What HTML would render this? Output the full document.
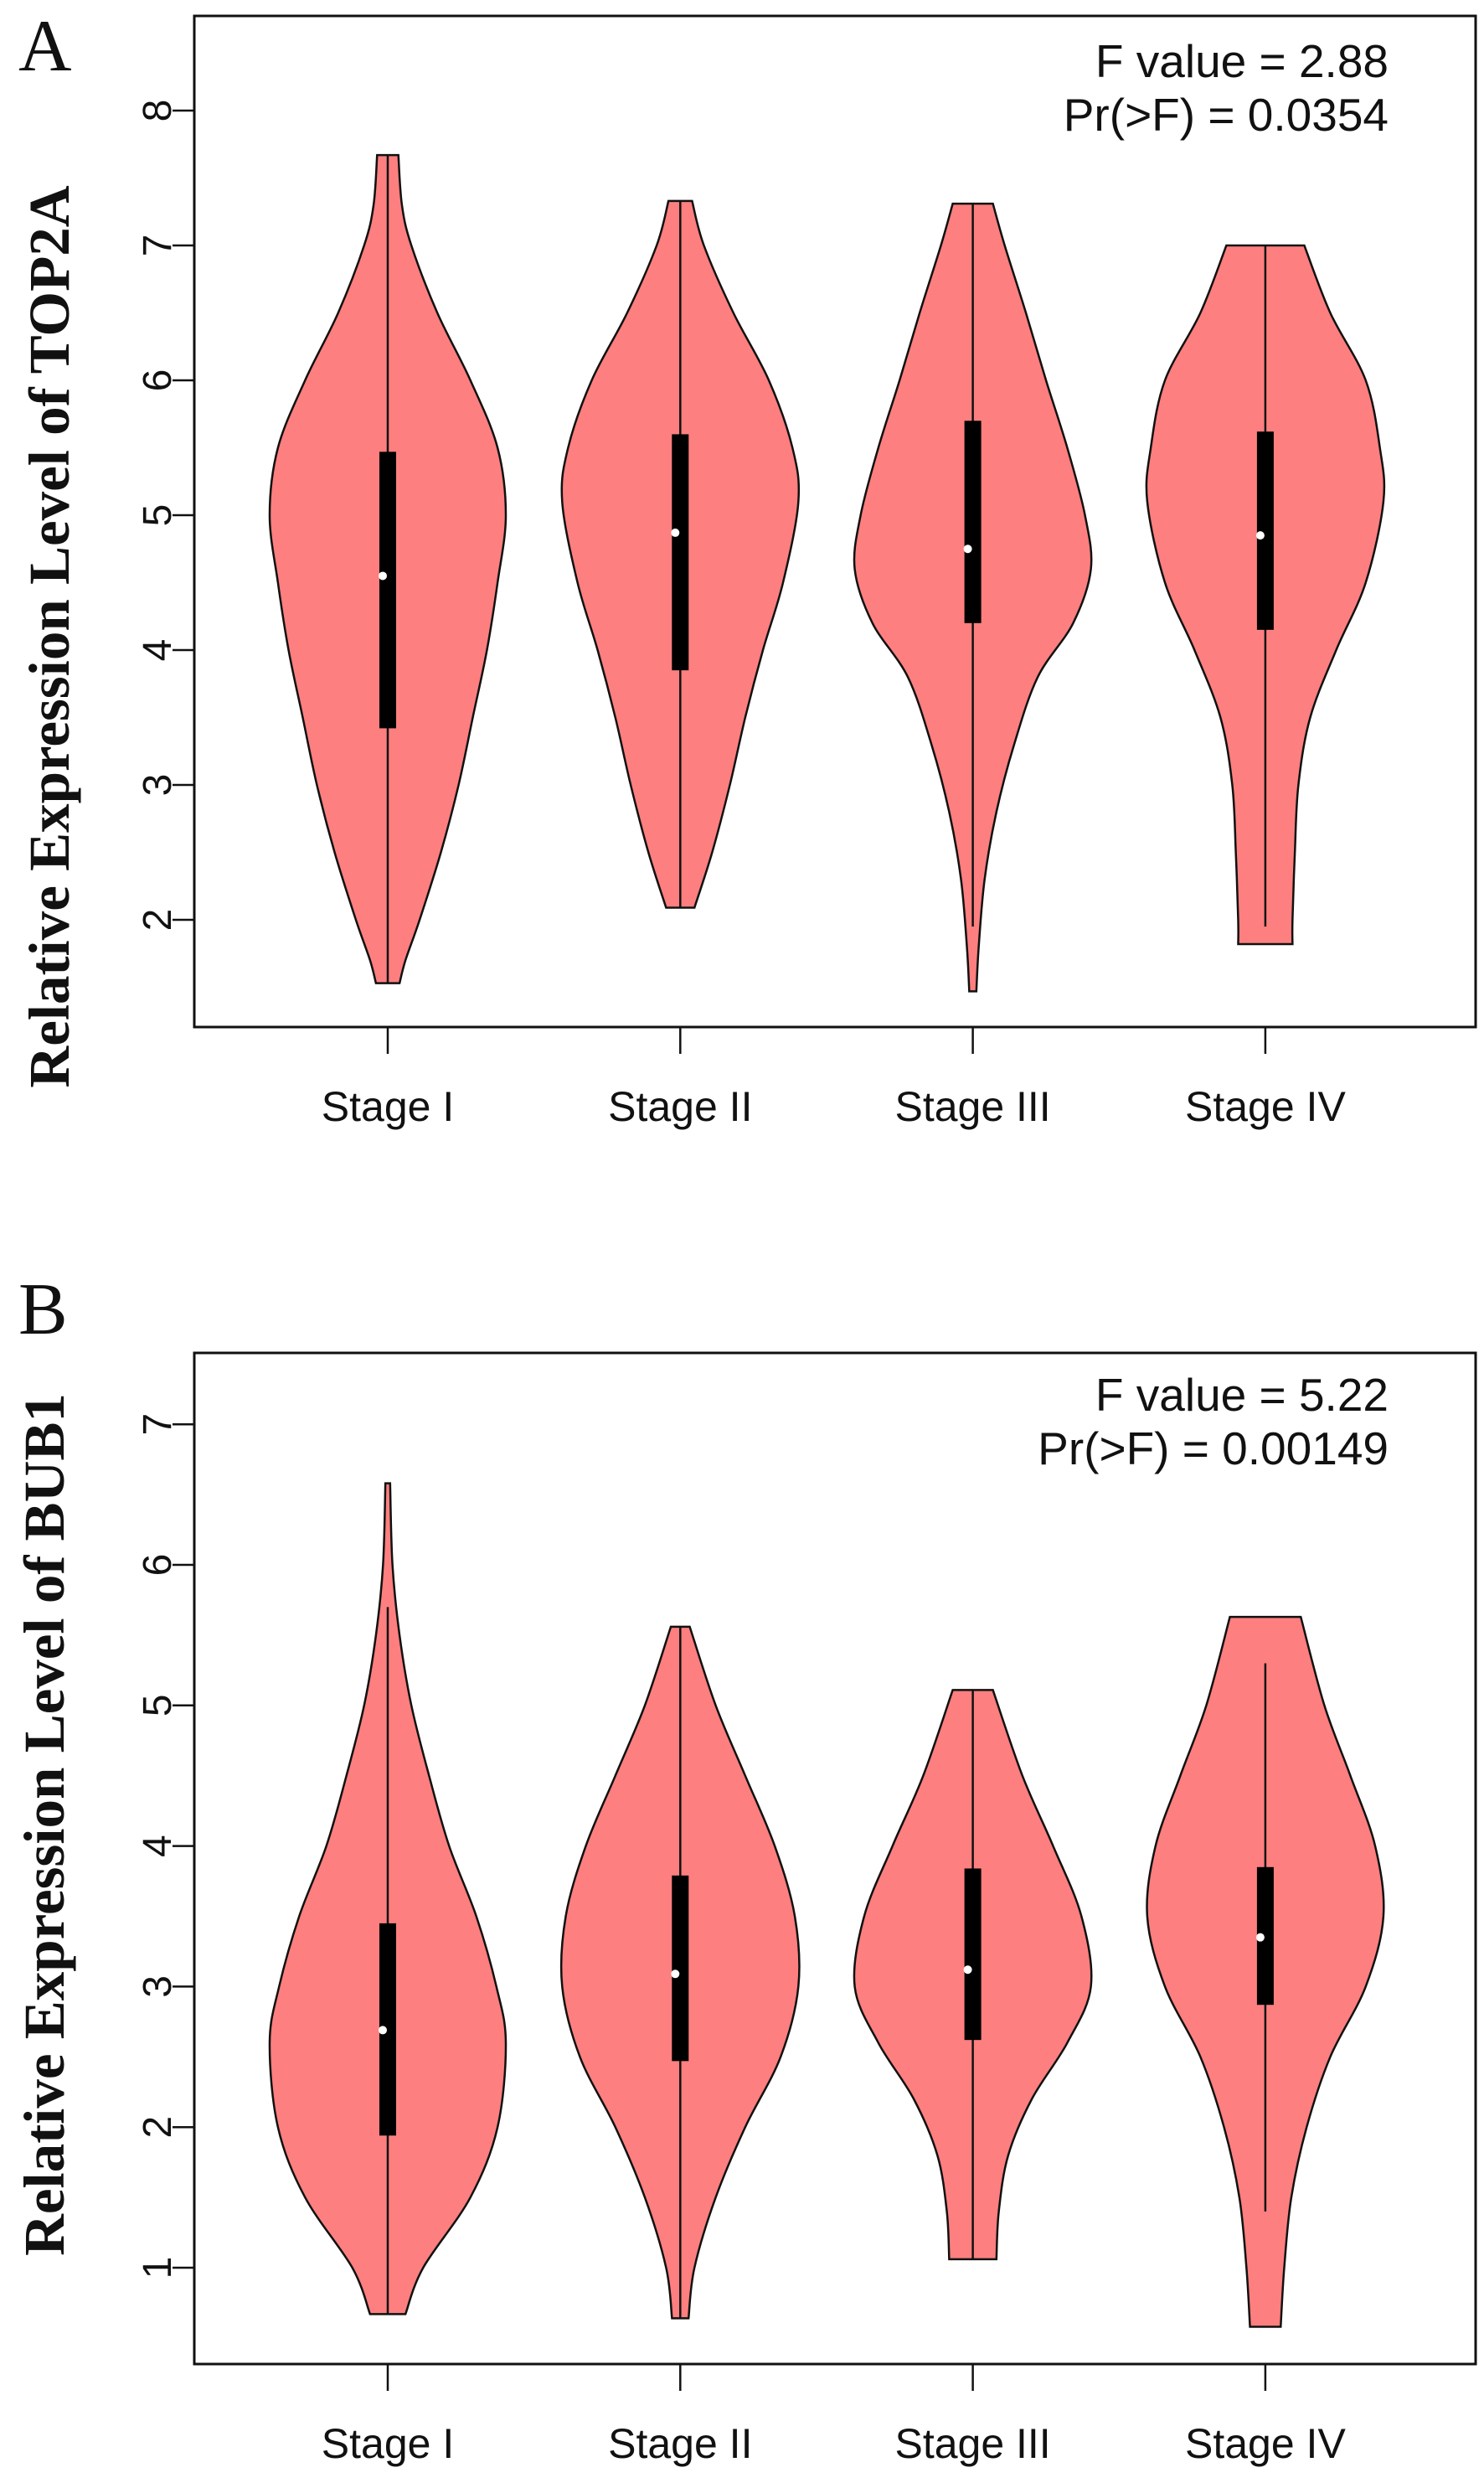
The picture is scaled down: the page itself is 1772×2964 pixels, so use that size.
<!DOCTYPE html>
<html><head><meta charset="utf-8"><style>
html,body{margin:0;padding:0;background:#fff;}
svg{display:block;}
</style></head><body>
<svg id="chart" width="1772" height="2964" viewBox="0 0 1772 2964" xmlns="http://www.w3.org/2000/svg"></svg>
<script>
// ---- data ----
const categories = ["Stage I","Stage II","Stage III","Stage IV"];
const ticksA = [2,3,4,5,6,7,8];
const ticksB = [1,2,3,4,5,6,7];
// violin profiles: [value, relative half-width]
const profA1 = [[7.67,0.09],[7.3,0.12],[7.0,0.2],[6.5,0.42],[6.0,0.7],[5.5,0.93],[5.0,1.0],[4.5,0.93],[4.0,0.84],[3.5,0.72],[3.0,0.6],[2.5,0.45],[2.0,0.27],[1.7,0.15],[1.53,0.1]];
const profA2 = [[7.33,0.1],[7.0,0.2],[6.5,0.45],[6.0,0.75],[5.5,0.95],[5.1,1.0],[4.5,0.87],[4.0,0.7],[3.5,0.55],[3.0,0.42],[2.5,0.27],[2.09,0.12]];
const profA3 = [[7.31,0.17],[7.0,0.27],[6.5,0.45],[6.0,0.62],[5.5,0.8],[5.0,0.95],[4.6,1.0],[4.2,0.85],[3.8,0.55],[3.3,0.35],[2.8,0.2],[2.3,0.1],[1.8,0.05],[1.47,0.03]];
const profA4 = [[7.0,0.33],[6.5,0.55],[6.0,0.85],[5.5,0.97],[5.1,1.0],[4.5,0.85],[4.0,0.6],[3.5,0.38],[3.0,0.28],[2.5,0.25],[2.0,0.23],[1.82,0.23]];
const profB1 = [[6.58,0.02],[6.0,0.04],[5.5,0.1],[5.0,0.2],[4.5,0.35],[4.0,0.52],[3.5,0.75],[3.0,0.92],[2.6,1.0],[2.0,0.93],[1.5,0.7],[1.0,0.3],[0.67,0.15]];
const profB2 = [[5.56,0.08],[5.0,0.3],[4.5,0.55],[4.0,0.8],[3.5,0.97],[3.0,1.0],[2.5,0.85],[2.0,0.55],[1.5,0.3],[1.0,0.12],[0.64,0.07]];
const profB3 = [[5.11,0.17],[4.5,0.42],[4.0,0.68],[3.5,0.92],[3.0,1.0],[2.6,0.8],[2.2,0.5],[1.8,0.3],[1.4,0.22],[1.06,0.2]];
const profB4 = [[5.63,0.3],[5.0,0.5],[4.5,0.72],[4.0,0.93],[3.5,1.0],[3.0,0.85],[2.5,0.55],[2.0,0.35],[1.5,0.22],[1.0,0.16],[0.58,0.13]];
// box stats: [whiskerLow, q1, median, q3, whiskerHigh]
const statsA = [[1.53,3.42,4.55,5.47,7.67],[2.09,3.85,4.87,5.6,7.33],[1.95,4.2,4.75,5.7,7.31],[1.95,4.15,4.85,5.62,7.0]];
const statsB = [[0.67,1.94,2.69,3.45,5.7],[0.64,2.47,3.09,3.79,5.56],[1.06,2.62,3.12,3.84,5.11],[1.4,2.87,3.35,3.85,5.3]];

const NS="http://www.w3.org/2000/svg";
const svg=document.getElementById('chart');
function mk(tag,attrs,parent){const e=document.createElementNS(NS,tag);for(const k in attrs)e.setAttribute(k,attrs[k]);(parent||svg).appendChild(e);return e;}

function smoothPath(pts){ // catmull-rom
  let d=`M${pts[0][0]},${pts[0][1]}`;
  for(let i=0;i<pts.length-1;i++){
    const p0=pts[Math.max(0,i-1)],p1=pts[i],p2=pts[i+1],p3=pts[Math.min(pts.length-1,i+2)];
    const c1=[p1[0]+(p2[0]-p0[0])/6,p1[1]+(p2[1]-p0[1])/6];
    const c2=[p2[0]-(p3[0]-p1[0])/6,p2[1]-(p3[1]-p1[1])/6];
    d+=` C${c1[0]},${c1[1]} ${c2[0]},${c2[1]} ${p2[0]},${p2[1]}`;
  }
  return d;
}

function panel(cfg){
  const g=mk('g',{});
  
  
  const y=v=>cfg.y0-(v-cfg.v0)*cfg.unit;
  const x=i=>463+i*349.3;
  const W=141;
  cfg.profiles.forEach((prof,i)=>{
    const cx=x(i);
    const right=prof.map(p=>[cx+p[1]*W,y(p[0])]);
    const left=prof.slice().reverse().map(p=>[cx-p[1]*W,y(p[0])]);
    const lp=smoothPath(left);
    let d=smoothPath(right)+` L${left[0][0]},${left[0][1]}`+lp.slice(lp.indexOf(' C'))+' Z';
    const v=mk('path',{d:d,fill:'#fe7f7f',stroke:'#111','stroke-width':2.5},g);
    
    
    const s=cfg.stats[i];
    const wl=mk('line',{x1:cx,x2:cx,y1:y(s[0]),y2:y(s[4]),stroke:'#111','stroke-width':2.5},g);
    
    
    const bx=mk('rect',{x:cx-10,y:y(s[3]),width:20,height:y(s[1])-y(s[3]),fill:'#000'},g);
    
    
    const md=mk('circle',{cx:cx-6,cy:y(s[2]),r:5,fill:'#fff'},g);
    
    
    const xt=mk('line',{x1:cx,x2:cx,y1:cfg.bottom,y2:cfg.bottom+32,stroke:'#111','stroke-width':2.5},g);
    
    
    const xl=mk('text',{x:cx,y:cfg.bottom+112,'text-anchor':'middle','font-family':'Liberation Sans, sans-serif','font-size':50,fill:'#111'},g);
    xl.textContent=categories[i];
    
    
  });
  const fr=mk('rect',{x:232,y:cfg.top,width:1530,height:cfg.bottom-cfg.top,fill:'none',stroke:'#111','stroke-width':3},g);
  
  
  cfg.ticks.forEach(t=>{
    const yy=y(t);
    const tl=mk('line',{x1:206,x2:232,y1:yy,y2:yy,stroke:'#111','stroke-width':2.5},g);
    
    
    const tx=mk('text',{x:0,y:0,transform:`translate(204,${yy}) rotate(-90)`,'text-anchor':'middle','font-family':'Liberation Sans, sans-serif','font-size':48,fill:'#111'},g);
    tx.textContent=t;
    
    
  });
  const yt=mk('text',{x:0,y:0,transform:`translate(${cfg.titleX},${cfg.titleY}) rotate(-90)`,'text-anchor':'middle','font-family':'Liberation Serif, serif','font-weight':'bold','font-size':69,fill:'#111'},g);
  yt.textContent=cfg.title;
  
  
  cfg.statText.forEach((t,k)=>{
    const st=mk('text',{x:1658,y:cfg.statY+k*64,'text-anchor':'end','font-family':'Liberation Sans, sans-serif','font-size':55,fill:'#111'},g);
    st.textContent=t;
    
    
  });
  const lt=mk('text',{x:22,y:cfg.letterY,'font-family':'Liberation Serif, serif','font-size':88,fill:'#111'},g);
  lt.textContent=cfg.letter;
  
  
}

panel({name:'panel-a',top:19,bottom:1226,y0:1098,v0:2,unit:161,ticks:ticksA,profiles:[profA1,profA2,profA3,profA4],stats:statsA,
  title:'Relative Expression Level of TOP2A',titleX:82,titleY:760,statText:['F value = 2.88','Pr(>F) = 0.0354'],statY:92,letter:'A',letterY:84});
panel({name:'panel-b',top:1615,bottom:2822,y0:2707,v0:1,unit:167.8,ticks:ticksB,profiles:[profB1,profB2,profB3,profB4],stats:statsB,
  title:'Relative Expression Level of BUB1',titleX:76,titleY:2178,statText:['F value = 5.22','Pr(>F) = 0.00149'],statY:1684,letter:'B',letterY:1592});
</script>
</body></html>
